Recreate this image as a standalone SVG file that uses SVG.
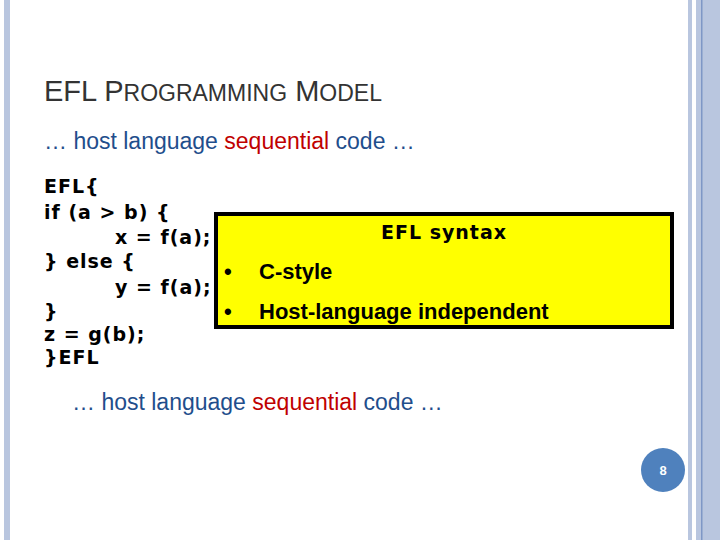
<svg xmlns="http://www.w3.org/2000/svg" width="720" height="540" viewBox="0 0 720 540">
<style>
.code{font-family:"DejaVu Sans",sans-serif;font-size:19px;font-weight:bold;letter-spacing:1px;fill:#000}
.t{font-family:"Liberation Sans",Arial,sans-serif;font-size:23px;fill:#1f4e8c}
.r{fill:#c00000}
.b{font-family:"Liberation Sans",Arial,sans-serif;font-size:22px;font-weight:bold;fill:#000}
</style>
<rect width="720" height="540" fill="#fff"/>
<rect x="4" y="0" width="6" height="540" fill="#b9c6df"/>
<rect x="688" y="0" width="4" height="540" fill="#b9c6df"/>
<rect x="696" y="0" width="24" height="540" fill="#b9c6df"/>
<rect x="701" y="0" width="1.5" height="540" fill="#7f97c6"/>
<text x="44" y="101" font-family="Liberation Sans,Arial,sans-serif" font-size="29" fill="#333">EFL P<tspan font-size="23">ROGRAMMING</tspan> M<tspan font-size="23">ODEL</tspan></text>
<text x="44" y="149" class="t">… host language <tspan class="r">sequential</tspan> code …</text>
<g id="code" class="code">
<text x="44" y="193">EFL{</text>
<text x="44" y="219">if (a &gt; b) {</text>
<text x="115" y="244">x = f(a);</text>
<text x="44" y="268">} else {</text>
<text x="115" y="294">y = f(a);</text>
<text x="44" y="318">}</text>
<text x="44" y="341">z = g(b);</text>
<text x="44" y="364">}EFL</text>
</g>
<g id="box">
<rect x="216" y="214" width="456" height="113" fill="#ffff00" stroke="#000" stroke-width="4"/>
<text x="444" y="239" class="code" text-anchor="middle">EFL syntax</text>
<text x="224" y="279" class="b">•</text>
<text x="259" y="279" class="b">C-style</text>
<text x="224" y="319" class="b">•</text>
<text x="259" y="319" class="b">Host-language independent</text>
</g>
<text x="72" y="410" class="t">… host language <tspan class="r">sequential</tspan> code …</text>
<g id="page">
<circle cx="663" cy="470" r="22" fill="#4f81bd"/>
<text x="663" y="475" font-family="Liberation Sans,Arial,sans-serif" font-size="13" font-weight="bold" fill="#fff" text-anchor="middle">8</text>
</g>
</svg>
